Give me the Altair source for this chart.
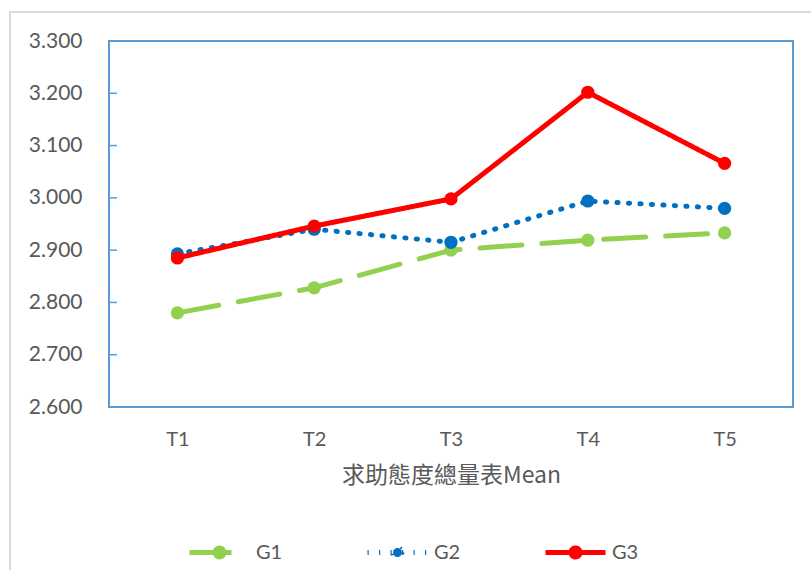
import altair as alt
import pandas as pd

times = ["T1", "T2", "T3", "T4", "T5"]
groups = ["G1", "G2", "G3"]
g1 = [2.780, 2.828, 2.900, 2.919, 2.933]
g2 = [2.893, 2.940, 2.915, 2.994, 2.980]
g3 = [2.885, 2.946, 2.998, 3.202, 3.066]
y_ticks = [2.600, 2.700, 2.800, 2.900, 3.000, 3.100, 3.200, 3.300]
inner_ticks = [2.700, 2.800, 2.900, 3.000, 3.100, 3.200]

colors = ["#92D050", "#0070C0", "#FF0000"]
dashes = [[42, 20], [1.2, 10.3], [1, 0]]

rows = []
for g, vals in zip(groups, [g1, g2, g3]):
    for t, v in zip(times, vals):
        rows.append({"time": t, "group": g, "value": v})
df = pd.DataFrame(rows)
ticks_df = pd.DataFrame({"v": inner_ticks})
frame_df = pd.DataFrame({"k": [0]})

FONT = "Lato"
GREY = "#595959"
AXIS_BLUE = "#5B9BD5"

# legend symbol: a line with a small dot in its middle
LEG_PATH = ("M-1,0L1,0"
            "M0.15,0A0.15,0.15,0,1,1,-0.15,0A0.15,0.15,0,1,1,0.15,0Z")

leg = dict(title=None, orient="none", direction="horizontal",
           legendX=78, legendY=479,
           symbolType=LEG_PATH, symbolStrokeWidth=5, symbolSize=3600,
           columnPadding=74,
           labelFont=FONT, labelFontSize=20, labelColor=GREY, labelOffset=4)

x_enc = alt.X("time:N", sort=times,
              scale=alt.Scale(type="point", padding=0.5),
              axis=alt.Axis(title="求助態度總量表Mean", domain=False, ticks=False,
                            labelAngle=0, labelFont=FONT, labelFontSize=20,
                            labelColor=GREY, labelPadding=22,
                            titleFont="Noto Sans CJK TC", titleFontSize=23,
                            titleFontWeight="normal", titleColor=GREY,
                            titlePadding=15))
y_enc = alt.Y("value:Q",
              scale=alt.Scale(domain=[2.6, 3.3], nice=False, zero=False),
              axis=alt.Axis(title=None, values=y_ticks, format=".3f",
                            domain=False, ticks=False, grid=False,
                            labelFont=FONT, labelFontSize=21, labelColor=GREY,
                            labelPadding=27))
stroke_enc = alt.Stroke("group:N", scale=alt.Scale(domain=groups, range=colors),
                        legend=alt.Legend(**leg))
dash_enc = alt.StrokeDash("group:N", scale=alt.Scale(domain=groups, range=dashes),
                          legend=alt.Legend(**leg))
fill_enc = alt.Fill("group:N", scale=alt.Scale(domain=groups, range=colors),
                    legend=alt.Legend(**leg))

base = alt.Chart(df)
lines = base.mark_line(strokeWidth=5, strokeCap="round", strokeJoin="round").encode(
    x=x_enc, y=y_enc, stroke=stroke_enc, strokeDash=dash_enc, detail="group:N"
)
points = base.mark_circle(size=175, opacity=1, strokeWidth=0).encode(
    x=alt.X("time:N", sort=times), y="value:Q", fill=fill_enc,
)
tick_rules = alt.Chart(ticks_df).mark_rule(color=AXIS_BLUE, strokeWidth=1.5).encode(
    y="v:Q", x=alt.value(0), x2=alt.value(8)
)
frame = alt.Chart(frame_df).mark_rect(fill=None, stroke="#D9D9D9", strokeWidth=2).encode(
    x=alt.value(-99), x2=alt.value(760), y=alt.value(-29), y2=alt.value(600)
)

chart = alt.layer(frame, tick_rules, lines, points).properties(
    width=684, height=366,
    padding={"left": 109, "top": 41, "right": 18, "bottom": 163},
    autosize=alt.AutoSizeParams(type="none"),
    background="white",
).configure_view(
    stroke=AXIS_BLUE, strokeWidth=2
)

chart.save("out.html", embed_options={"renderer": "svg", "actions": False})
